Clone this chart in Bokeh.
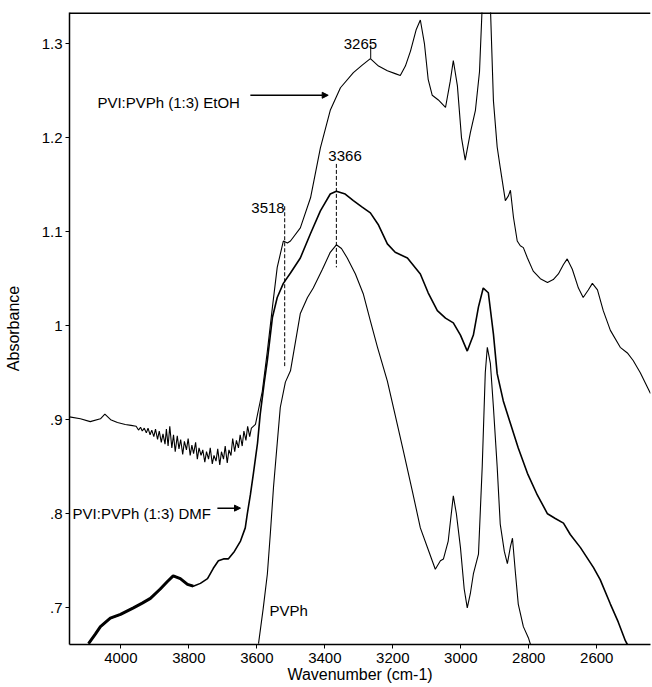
from bokeh.plotting import figure
from bokeh.models import (Range1d, FixedTicker, CustomJSTickFormatter, Label,
                          Arrow, NormalHead, Span)
from bokeh.embed import file_html
from bokeh.resources import INLINE

# ---------------- data ----------------
etoh_wn = [4151, 4119, 4090, 4060, 4047, 4030, 4010, 3987, 3970,
           3955, 3948, 3942, 3937, 3931, 3925, 3920, 3914, 3909, 3903, 3898, 3892,
           3887, 3881, 3876, 3870, 3866, 3861, 3856, 3850, 3845, 3840, 3834, 3829,
           3824, 3818, 3813, 3807, 3802, 3796, 3791, 3786, 3780, 3775, 3770, 3764,
           3759, 3753, 3748, 3742, 3737, 3731, 3726, 3720, 3715, 3709, 3704, 3698,
           3693, 3687, 3682, 3676, 3671, 3665, 3660, 3654, 3649, 3643, 3638, 3632,
           3627, 3621, 3616,
           3604, 3584, 3569, 3554, 3540, 3522, 3510, 3501, 3472, 3442, 3413, 3384,
           3354, 3316, 3290, 3266, 3242, 3216, 3193, 3178, 3163, 3148, 3131, 3119,
           3107, 3096, 3084, 3066, 3045, 3031, 3022, 3010, 2998, 2987, 2972, 2957,
           2945, 2937, 2925, 2913, 2904, 2893, 2884, 2869, 2860, 2854, 2845, 2834,
           2825, 2816, 2804, 2787, 2766, 2745, 2728, 2713, 2698, 2687, 2672, 2654,
           2640, 2625, 2613, 2598, 2581, 2560, 2531, 2510, 2493, 2472, 2442]
etoh_abs = [0.903, 0.901, 0.898, 0.901, 0.906, 0.900, 0.897, 0.895, 0.894,
            0.893, 0.889, 0.892, 0.888, 0.891, 0.886, 0.891, 0.884, 0.889, 0.882, 0.890, 0.879,
            0.888, 0.876, 0.885, 0.874, 0.890, 0.872, 0.893, 0.870, 0.884, 0.866, 0.883, 0.869,
            0.879, 0.863, 0.877, 0.868, 0.880, 0.862, 0.873, 0.864, 0.876, 0.858, 0.870, 0.862,
            0.868, 0.855, 0.866, 0.858, 0.870, 0.853, 0.862, 0.856, 0.869, 0.852, 0.866, 0.858,
            0.872, 0.854, 0.868, 0.862, 0.880, 0.866, 0.878, 0.870, 0.884, 0.872, 0.888, 0.878,
            0.893, 0.882, 0.891,
            0.895, 0.930, 0.973, 1.020, 1.062, 1.090, 1.088, 1.090, 1.104, 1.136, 1.189, 1.229,
            1.253, 1.269, 1.277, 1.284, 1.276, 1.271, 1.268, 1.266, 1.276, 1.292, 1.315, 1.325,
            1.300, 1.262, 1.245, 1.240, 1.232, 1.260, 1.282, 1.255, 1.200, 1.176, 1.205, 1.229,
            1.270, 1.340, 1.360, 1.340, 1.239, 1.190, 1.168, 1.133, 1.138, 1.144, 1.115, 1.090,
            1.085, 1.083, 1.072, 1.058, 1.050, 1.046, 1.049, 1.055, 1.065, 1.071, 1.060, 1.040,
            1.030, 1.038, 1.045, 1.038, 1.016, 0.995, 0.977, 0.971, 0.963, 0.950, 0.928]

dmf_wn = [4095, 4075, 4060, 4031, 4001, 3963, 3937, 3913, 3884, 3863, 3846, 3825,
          3804, 3787, 3766, 3745, 3728, 3713, 3698, 3684, 3666, 3648, 3634, 3628,
          3619, 3610, 3598, 3590, 3578, 3569, 3554, 3540, 3522, 3501, 3472, 3442,
          3413, 3384, 3366, 3340, 3316, 3290, 3266, 3242, 3216, 3193, 3157, 3119,
          3096, 3069, 3045, 3022, 3001, 2981, 2963, 2948, 2934, 2919, 2904, 2893,
          2875, 2854, 2831, 2804, 2775, 2745, 2722, 2698, 2678, 2648, 2610, 2590,
          2560, 2537, 2516, 2510]
dmf_abs = [0.662, 0.672, 0.680, 0.689, 0.693, 0.700, 0.705, 0.710, 0.720, 0.728, 0.734, 0.731,
           0.725, 0.723, 0.726, 0.731, 0.742, 0.750, 0.752, 0.752, 0.760, 0.771, 0.785, 0.800,
           0.820, 0.843, 0.875, 0.906, 0.940, 0.963, 1.009, 1.030, 1.045, 1.056, 1.072, 1.098,
           1.122, 1.140, 1.143, 1.140, 1.133, 1.126, 1.120, 1.107, 1.087, 1.078, 1.072, 1.055,
           1.035, 1.016, 1.008, 1.003, 0.990, 0.973, 0.990, 1.020, 1.040, 1.035, 0.991, 0.949,
           0.920, 0.896, 0.870, 0.843, 0.820, 0.800, 0.795, 0.790, 0.778, 0.764, 0.743, 0.730,
           0.704, 0.685, 0.665, 0.661]

pvph_wn = [3595, 3581, 3569, 3560, 3551, 3540, 3531, 3516, 3501, 3472, 3451, 3434,
           3407, 3384, 3366, 3351, 3334, 3310, 3287, 3266, 3245, 3216, 3193, 3169,
           3143, 3119, 3096, 3075, 3060, 3051, 3037, 3028, 3022, 3013, 3001, 2990,
           2981, 2972, 2963, 2948, 2937, 2928, 2922, 2913, 2904, 2893, 2884, 2872,
           2863, 2854, 2848, 2840, 2831, 2816, 2801, 2795]
pvph_abs = [0.662, 0.700, 0.736, 0.780, 0.828, 0.875, 0.913, 0.940, 0.952, 1.013, 1.030, 1.040,
            1.060, 1.078, 1.086, 1.082, 1.072, 1.055, 1.034, 1.005, 0.977, 0.941, 0.905, 0.867,
            0.825, 0.785, 0.762, 0.741, 0.750, 0.752, 0.771, 0.800, 0.819, 0.800, 0.764, 0.720,
            0.700, 0.715, 0.736, 0.757, 0.850, 0.950, 0.977, 0.960, 0.913, 0.850, 0.789, 0.760,
            0.747, 0.765, 0.774, 0.740, 0.704, 0.680, 0.668, 0.661]

x_ticks = [4000, 3800, 3600, 3400, 3200, 3000, 2800, 2600]
y_ticks = [0.7, 0.8, 0.9, 1.0, 1.1, 1.2, 1.3]

peak_labels = ["3518", "3366", "3265"]
peak_wn = [3518, 3366, 3265]
peak_label_y = [1.1255, 1.180, 1.300]
marker_top = [1.127, 1.172, 1.298]
marker_bottom = [0.957, 1.062, 1.284]

FONT = "Liberation Sans"
FS = "15px"

p = figure(width=652, height=687, output_backend="svg", toolbar_location=None,
           x_range=Range1d(4151, 2442), y_range=Range1d(0.661, 1.333),
           min_border_left=69, min_border_right=2, min_border_top=12,
           min_border_bottom=43)
p.grid.visible = False
p.outline_line_color = None
p.background_fill_color = "white"
p.border_fill_color = "white"

for ax in (p.xaxis[0], p.yaxis[0]):
    ax.axis_line_width = 1.5
    ax.axis_line_color = "black"
    ax.major_tick_in = 0
    ax.major_tick_out = 4
    ax.major_tick_line_color = "black"
    ax.minor_tick_line_color = None
    ax.major_label_text_font = FONT
    ax.major_label_text_font_size = FS
    ax.major_label_text_color = "black"
    ax.axis_label_text_font = FONT
    ax.axis_label_text_font_size = "16px"
    ax.axis_label_text_font_style = "normal"
    ax.axis_label_text_color = "black"

p.xaxis.ticker = FixedTicker(ticks=x_ticks)
p.yaxis.ticker = FixedTicker(ticks=y_ticks)
p.yaxis.formatter = CustomJSTickFormatter(code="""
var s = tick.toFixed(1);
if (s == '1.0') return '1';
if (s[0] == '0') return s.substring(1);
return s;
""")
p.xaxis.axis_label = "Wavenumber (cm-1)"
p.yaxis.axis_label = "Absorbance"
p.xaxis.major_label_standoff = 4
p.xaxis.axis_label_standoff = 0
p.yaxis.major_label_standoff = 3
p.yaxis.axis_label_standoff = 17

# top border line
p.add_layout(Span(location=1.3325, dimension="width", line_color="black", line_width=2))

# spectra
p.line(etoh_wn, etoh_abs, line_color="black", line_width=1.1)
p.line(dmf_wn, dmf_abs, line_color="black", line_width=1.6)
p.line(dmf_wn[:14], dmf_abs[:14], line_color="black", line_width=3)
p.line(pvph_wn, pvph_abs, line_color="black", line_width=1.1)

# peak markers
p.segment(x0=peak_wn[:2], y0=marker_top[:2], x1=peak_wn[:2], y1=marker_bottom[:2],
          line_color="black", line_width=1, line_dash="4 2")
p.segment(x0=peak_wn[2:], y0=marker_top[2:], x1=peak_wn[2:], y1=marker_bottom[2:],
          line_color="black", line_width=1)

offsets = [0, -8, -27]
aligns = ["right", "left", "left"]
for t, xw, yv, off, al in zip(peak_labels, peak_wn, peak_label_y, offsets, aligns):
    p.add_layout(Label(x=xw, y=yv, text=t, x_offset=off, text_align=al,
                       text_baseline="alphabetic", text_font=FONT,
                       text_font_size=FS, text_color="black"))

# series labels and arrows
p.add_layout(Label(x=4069, y=1.237, text="PVI:PVPh (1:3) EtOH", text_font=FONT,
                   text_font_size=FS, text_color="black", text_baseline="alphabetic"))
p.add_layout(Arrow(x_start=3619, y_start=1.245, x_end=3390, y_end=1.245,
                   line_color="black", line_width=1.5,
                   end=NormalHead(size=6, fill_color="black", line_color="black")))
p.add_layout(Label(x=4142, y=0.800, text="PVI:PVPh (1:3) DMF", text_font=FONT,
                   text_font_size=FS, text_color="black", text_baseline="alphabetic"))
p.add_layout(Arrow(x_start=3716, y_start=0.806, x_end=3648, y_end=0.806,
                   line_color="black", line_width=1.5,
                   end=NormalHead(size=6, fill_color="black", line_color="black")))
p.add_layout(Label(x=3563, y=0.697, text="PVPh", text_font=FONT,
                   text_font_size=FS, text_color="black", text_baseline="alphabetic"))

open("out.html", "w").write(file_html(p, INLINE))
